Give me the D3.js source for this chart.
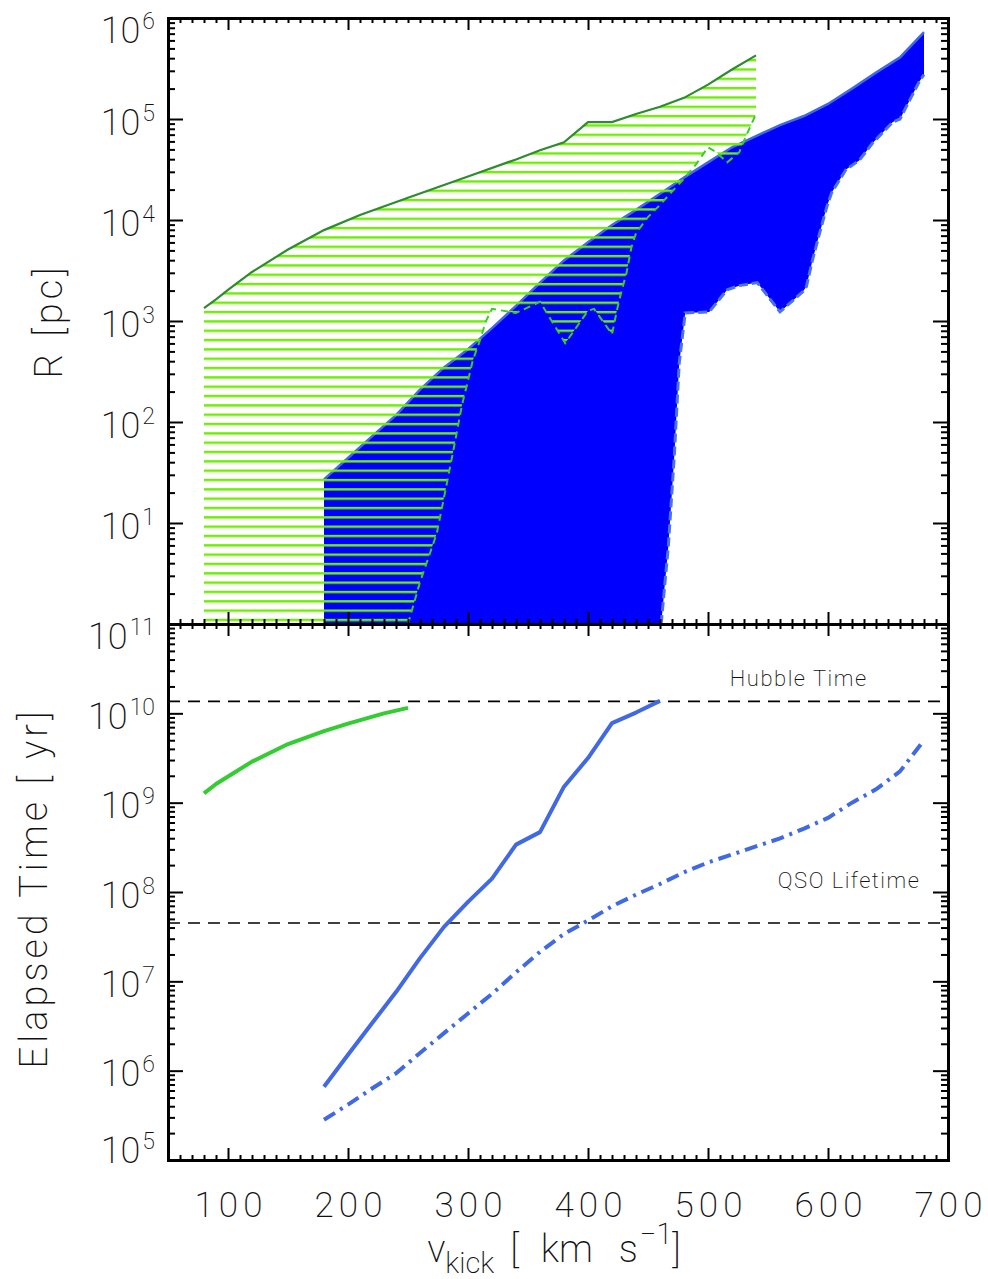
<!DOCTYPE html>
<html>
<head>
<meta charset="utf-8">
<script src="https://cdn.jsdelivr.net/npm/d3@7/dist/d3.min.js"></script>
<style>
  html, body { margin: 0; padding: 0; background: #fff; }
  svg { display: block; }
  text { font-family: Roboto, "Open Sans", "DejaVu Sans", sans-serif; font-weight: 200; fill: #111; }
</style>
</head>
<body>
<svg id="chart" width="988" height="1279"></svg>
<script>
// ---------------- data ----------------
// Upper panel: radius reached R [pc] versus kick velocity [km/s]
const greenUpperV = [80, 90, 100, 120, 150, 180, 210, 250, 300, 340, 360, 380, 400, 420, 440, 460, 480, 500, 520, 540];
const greenUpperR = [1340, 1640, 2030, 3060, 5100, 7940, 11200, 16600, 27000, 39800, 49000, 58900, 93300, 93300, 112000, 132000, 162000, 219000, 309000, 427000];

const greenLowerV = [250, 260, 274, 283, 289, 295, 299, 304, 310, 315, 320, 340, 360, 381, 400, 405, 420, 424, 428, 432, 436, 440, 450, 460, 470, 480, 490, 500, 507, 516, 526, 532, 540];
const greenLowerR = [1, 2.6, 7.9, 27, 62, 148, 229, 407, 646, 1000, 1320, 1200, 1550, 603, 1260, 1320, 741, 1260, 2000, 2950, 5250, 7410, 10700, 14100, 19100, 25700, 35500, 52500, 46800, 37200, 46800, 69200, 112000];

const blueUpperV = [180, 200, 220, 240, 260, 280, 300, 320, 340, 360, 380, 400, 420, 440, 460, 480, 500, 520, 540, 560, 580, 600, 620, 640, 660, 680];
const blueUpperR = [27, 44, 72, 117, 209, 347, 525, 851, 1410, 2400, 3980, 6030, 8910, 12600, 18200, 26300, 37200, 52500, 67600, 87100, 107000, 141000, 200000, 288000, 407000, 724000];

const blueLowerV = [461, 467, 472, 476, 481, 501, 516, 526, 541, 560, 579, 582, 587, 593, 599, 603, 615, 626, 637, 654, 660, 676, 680];
const blueLowerR = [1, 6, 48, 380, 1200, 1230, 2040, 2240, 2400, 1230, 1950, 2190, 3980, 7410, 13500, 18600, 31600, 38900, 57500, 93300, 100000, 234000, 275000];

// Lower panel: elapsed time [yr] versus kick velocity [km/s]
const greenTimeV = [80, 90, 120, 150, 180, 200, 230, 250];
const greenTimeT = [1.27e9, 1.62e9, 2.88e9, 4.53e9, 6.31e9, 7.67e9, 1.0e10, 1.15e10];

const blueSolidV = [180, 200, 220, 240, 260, 280, 300, 320, 340, 360, 380, 400, 420, 440, 460];
const blueSolidT = [6.6e5, 1.51e6, 3.39e6, 7.59e6, 1.82e7, 4.07e7, 7.76e7, 1.41e8, 3.39e8, 4.68e8, 1.51e9, 3.16e9, 7.76e9, 1.02e10, 1.38e10];

const blueDashV = [180, 200, 220, 240, 260, 280, 300, 320, 340, 360, 380, 400, 420, 440, 460, 480, 500, 520, 540, 560, 580, 600, 620, 640, 660, 680];
const blueDashT = [2.82e5, 4.17e5, 6.31e5, 9.33e5, 1.58e6, 2.63e6, 4.37e6, 7.24e6, 1.26e7, 2.14e7, 3.39e7, 4.79e7, 6.92e7, 9.33e7, 1.23e8, 1.66e8, 2.14e8, 2.63e8, 3.24e8, 3.98e8, 5.13e8, 6.76e8, 1.0e9, 1.41e9, 2.24e9, 5.01e9];

// Reference time scales
const refLabels = ["Hubble Time", "QSO Lifetime"];
const refTimes = [1.36e10, 4.5e7];
const refLabelV = [633, 677];
const refLabelT = [2.0e10, 1.1e8];

// Axis ticks
const xMajor = [100, 200, 300, 400, 500, 600, 700];
const xMinor = [60, 70, 80, 90, 110, 120, 130, 140, 150, 160, 170, 180, 190, 210, 220, 230, 240, 250, 260, 270, 280, 290,
  310, 320, 330, 340, 350, 360, 370, 380, 390, 410, 420, 430, 440, 450, 460, 470, 480, 490,
  510, 520, 530, 540, 550, 560, 570, 580, 590, 610, 620, 630, 640, 650, 660, 670, 680, 690];
const rMajor = [1e1, 1e2, 1e3, 1e4, 1e5, 1e6];
const tMajor = [1e5, 1e6, 1e7, 1e8, 1e9, 1e10, 1e11];

// ---------------- layout ----------------
const svg = d3.select("#chart");
const defs = svg.append("defs");
const X0 = 168, X1 = 948;
const P1 = { top: 18, bottom: 624 };
const P2 = { top: 624, bottom: 1160 };

const x = d3.scaleLinear().domain([50, 700]).range([X0, X1]);
const yR = d3.scaleLog().domain([1, 1e6]).range([P1.bottom, P1.top]);
const yT = d3.scaleLog().domain([1e5, 1e11]).range([P2.bottom, P2.top]);

function logMinors(lo, hi) {
  const out = [];
  for (let k = lo; k < hi; k++) for (let m = 2; m <= 9; m++) out.push(m * Math.pow(10, k));
  return out;
}

defs.append("clipPath").attr("id", "clipTop").append("rect")
  .attr("x", X0).attr("y", P1.top).attr("width", X1 - X0).attr("height", P1.bottom - P1.top);
defs.append("clipPath").attr("id", "clipBot").append("rect")
  .attr("x", X0).attr("y", P2.top).attr("width", X1 - X0).attr("height", P2.bottom - P2.top);

// horizontal hatching for the green region
const hatchGap = 9.33, hatchW = 2.4;
const pat = defs.append("pattern").attr("id", "hatch").attr("patternUnits", "userSpaceOnUse")
  .attr("x", 0).attr("y", P1.bottom - 4 - hatchW / 2).attr("width", 988).attr("height", hatchGap);
pat.append("rect").attr("x", 0).attr("y", 0).attr("width", 988).attr("height", hatchW).attr("fill", "#6cf000");

const zip = (a, b) => a.map((v, i) => [v, b[i]]);

// ---------------- upper panel ----------------
const gTop = svg.append("g").attr("clip-path", "url(#clipTop)");
const lineR = d3.line().x(d => x(d[0])).y(d => yR(d[1]));

const blueUp = zip(blueUpperV, blueUpperR);
const blueLo = zip(blueLowerV, blueLowerR);
const bluePoly = blueUp.concat(blueLo.slice().reverse(), [[blueUpperV[0], 1]]);
gTop.append("path").attr("d", lineR(bluePoly) + "Z").attr("fill", "#0000ff").attr("stroke", "none");
gTop.append("path").attr("d", lineR(blueUp)).attr("fill", "none")
  .attr("stroke", "#4169e1").attr("stroke-width", 2.5);
gTop.append("path").attr("d", lineR(blueLo)).attr("fill", "none")
  .attr("stroke", "#4a74e6").attr("stroke-width", 3).attr("stroke-dasharray", "9,4");

const greenUp = zip(greenUpperV, greenUpperR);
const greenLo = zip(greenLowerV, greenLowerR);
const greenPoly = greenUp.concat(greenLo.slice().reverse(), [[greenUpperV[0], 1]]);
gTop.append("path").attr("d", lineR(greenPoly) + "Z").attr("fill", "url(#hatch)").attr("stroke", "none");
gTop.append("path").attr("d", lineR(greenLo)).attr("fill", "none")
  .attr("stroke", "#3ccc2a").attr("stroke-width", 2).attr("stroke-dasharray", "7,5");
gTop.append("path").attr("d", lineR(greenUp)).attr("fill", "none")
  .attr("stroke", "#2e8b2e").attr("stroke-width", 2.2);

// ---------------- lower panel ----------------
const gBot = svg.append("g").attr("clip-path", "url(#clipBot)");
const lineT = d3.line().x(d => x(d[0])).y(d => yT(d[1]));

refTimes.forEach((t, i) => {
  gBot.append("line").attr("x1", X0).attr("x2", X1).attr("y1", yT(t)).attr("y2", yT(t))
    .attr("stroke", "#000").attr("stroke-width", 1.6).attr("stroke-dasharray", "12,8");
  gBot.append("text").attr("x", x(refLabelV[i])).attr("y", yT(refLabelT[i]))
    .attr("text-anchor", "end").style("font-size", "22px").style("letter-spacing", "1.5px")
    .text(refLabels[i]);
});

gBot.append("path").attr("d", lineT(zip(greenTimeV, greenTimeT))).attr("fill", "none")
  .attr("stroke", "#33cc33").attr("stroke-width", 4).attr("stroke-linejoin", "round");
gBot.append("path").attr("d", lineT(zip(blueSolidV, blueSolidT))).attr("fill", "none")
  .attr("stroke", "#4169e1").attr("stroke-width", 4).attr("stroke-linejoin", "round");
gBot.append("path").attr("d", lineT(zip(blueDashV, blueDashT))).attr("fill", "none")
  .attr("stroke", "#4169e1").attr("stroke-width", 4).attr("stroke-dasharray", "13,6,3,6");

// ---------------- axes ----------------
function styleAxis(g) {
  g.attr("font-family", null).attr("font-size", null);
  g.selectAll(".tick line").attr("stroke", "#000").attr("stroke-width", 2);
  g.select(".domain").attr("stroke", "#000").attr("stroke-width", 3).attr("stroke-linecap", "square");
}

function frame(yScale, p, yMajor, yMinor, labelled, withXLabels) {
  const g = svg.append("g");
  // bottom edge
  const b1 = g.append("g").attr("transform", `translate(0,${p.bottom})`)
    .call(d3.axisBottom(x).tickValues(xMinor).tickSize(-5).tickSizeOuter(0).tickFormat(""));
  b1.select(".domain").remove(); styleAxis(b1);
  const b2 = g.append("g").attr("transform", `translate(0,${p.bottom})`)
    .call(d3.axisBottom(x).tickValues(xMajor).tickSize(-12).tickSizeOuter(0).tickPadding(32)
      .tickFormat(withXLabels ? d3.format("d") : ""));
  styleAxis(b2);
  b2.selectAll("text").attr("fill", "#111").attr("dx", "2.5px").style("font-size", "35px").style("letter-spacing", "5px");
  // top edge
  const t1 = g.append("g").attr("transform", `translate(0,${p.top})`)
    .call(d3.axisTop(x).tickValues(xMinor).tickSize(-5).tickSizeOuter(0).tickFormat(""));
  t1.select(".domain").remove(); styleAxis(t1);
  const t2 = g.append("g").attr("transform", `translate(0,${p.top})`)
    .call(d3.axisTop(x).tickValues(xMajor).tickSize(-12).tickSizeOuter(0).tickFormat(""));
  styleAxis(t2);
  // left edge
  const l1 = g.append("g").attr("transform", `translate(${X0},0)`)
    .call(d3.axisLeft(yScale).tickValues(yMinor).tickSize(-7).tickSizeOuter(0).tickFormat(""));
  l1.select(".domain").remove(); styleAxis(l1);
  const l2 = g.append("g").attr("transform", `translate(${X0},0)`)
    .call(d3.axisLeft(yScale).tickValues(yMajor).tickSize(-15).tickSizeOuter(0).tickFormat(""));
  styleAxis(l2);
  l2.selectAll(".tick").filter(d => labelled.includes(d)).each(function (d) {
    const yy = yScale(d);
    const base = Math.min(Math.max(yy + 15, p.top + 24), p.bottom + 2) - yy;
    const t = d3.select(this).append("text").attr("x", -13).attr("y", base)
      .attr("text-anchor", "end").attr("fill", "#111").style("font-size", "36px");
    t.append("tspan").text("10");
    t.append("tspan").attr("dx", 2).attr("dy", -14).style("font-size", "23px").text(Math.round(Math.log10(d)));
  });
  // right edge
  const r1 = g.append("g").attr("transform", `translate(${X1},0)`)
    .call(d3.axisRight(yScale).tickValues(yMinor).tickSize(-7).tickSizeOuter(0).tickFormat(""));
  r1.select(".domain").remove(); styleAxis(r1);
  const r2 = g.append("g").attr("transform", `translate(${X1},0)`)
    .call(d3.axisRight(yScale).tickValues(yMajor).tickSize(-15).tickSizeOuter(0).tickFormat(""));
  styleAxis(r2);
}

frame(yR, P1, [1e0].concat(rMajor), logMinors(0, 6), rMajor, false);
frame(yT, P2, tMajor, logMinors(5, 11), tMajor, true);

// ---------------- axis titles ----------------
svg.append("text")
  .attr("transform", `translate(62,${(P1.top + P1.bottom) / 2}) rotate(-90)`)
  .attr("text-anchor", "middle").attr("fill", "#333").style("font-size", "38px").style("letter-spacing", "4px")
  .text("R [pc]");

svg.append("text")
  .attr("transform", `translate(47,${(P2.top + P2.bottom) / 2 - 4}) rotate(-90)`)
  .attr("text-anchor", "middle").attr("fill", "#333").style("font-size", "38px").style("letter-spacing", "4px")
  .text("Elapsed Time [ yr]");

const xt = svg.append("text").attr("x", (X0 + X1) / 2 - 4).attr("y", 1262)
  .attr("text-anchor", "middle").attr("fill", "#333").style("font-size", "38px");
xt.append("tspan").text("v");
xt.append("tspan").attr("dy", 11).style("font-size", "29px").text("kick");
xt.append("tspan").attr("dy", -11).attr("dx", 16).text("[");
xt.append("tspan").attr("dx", 22).text("km");
xt.append("tspan").attr("dx", 26).text("s");
xt.append("tspan").attr("dy", -18).attr("dx", 2).style("font-size", "29px").text("\u22121");
xt.append("tspan").attr("dy", 18).text("]");
</script>
</body>
</html>
